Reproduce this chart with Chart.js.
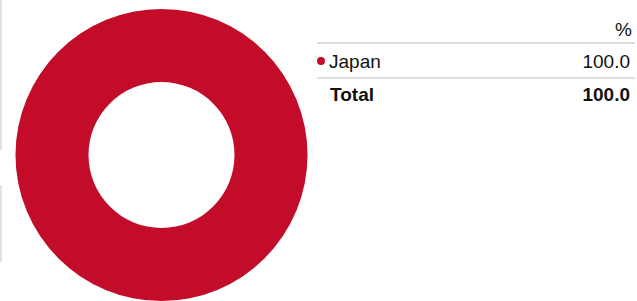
<!DOCTYPE html>
<html>
<head>
<meta charset="utf-8">
<script src="https://cdn.jsdelivr.net/npm/chart.js@4"></script>
<style>
  html, body { margin: 0; padding: 0; background: #fff; }
  body { width: 637px; height: 301px; position: relative; overflow: hidden;
         font-family: "Liberation Sans", Arial, sans-serif; color: #111; }
  #chartBox { position: absolute; left: 15px; top: 9px; width: 293px; height: 292px; }
  .edge { position: absolute; left: 0; width: 2px; background: #e2e2e2; }
  #tabla { position: absolute; left: 317px; top: 0; width: 318px; }
  .fila { position: absolute; left: 0; width: 318px; height: 20px; line-height: 20px; font-size: 19px; }
  .fila .val { position: absolute; right: 5px; top: 0; }
  .fila .nom { position: absolute; left: 12px; top: 0; }
  .punto { position: absolute; left: 0; top: 5px; width: 8px; height: 8px; border-radius: 50%; }
  .linea { position: absolute; left: 0; width: 318px; height: 2px; background: #dedede; }
  .bold { font-weight: bold; }
</style>
</head>
<body>
<div class="edge" style="top:0;height:150px"></div>
<div class="edge" style="top:185px;height:77px"></div>
<div id="chartBox"><canvas id="grafico"></canvas></div>
<div id="tabla"></div>
<script>
const categorias = ['Japan'];
const valores = [100.0];
const colores = ['#c20c2a'];
const encabezado = '%';
const totalEtiqueta = 'Total';

const ctx = document.getElementById('grafico').getContext('2d');
window.chart = new Chart(ctx, {
    type: 'doughnut',
    data: {
        labels: categorias,
        datasets: [{
            data: valores,
            backgroundColor: colores,
            borderWidth: 0
        }]
    },
    options: {
        responsive: true,
        maintainAspectRatio: false,
        animation: false,
        cutout: '50%',
        plugins: {
            legend: { display: false },
            tooltip: { enabled: false }
        }
    }
});

// tabla de la derecha
const tabla = document.getElementById('tabla');
let html = `<div class="fila" style="top:20px"><span class="val" style="right:3px">${encabezado}</span></div>`;
html += `<div class="linea" style="top:42px"></div>`;
let y = 52;
categorias.forEach((cat, i) => {
    html += `<div class="fila" style="top:${y}px"><span class="punto" style="background:${colores[i]}"></span>` +
            `<span class="nom">${cat}</span><span class="val">${valores[i].toFixed(1)}</span></div>`;
    html += `<div class="linea" style="top:${y + 25}px"></div>`;
    y += 33;
});
const total = valores.reduce((a, b) => a + b, 0);
html += `<div class="fila bold" style="top:${y}px"><span class="nom" style="left:13px">${totalEtiqueta}</span>` +
        `<span class="val">${total.toFixed(1)}</span></div>`;
tabla.innerHTML = html;
</script>
</body>
</html>
